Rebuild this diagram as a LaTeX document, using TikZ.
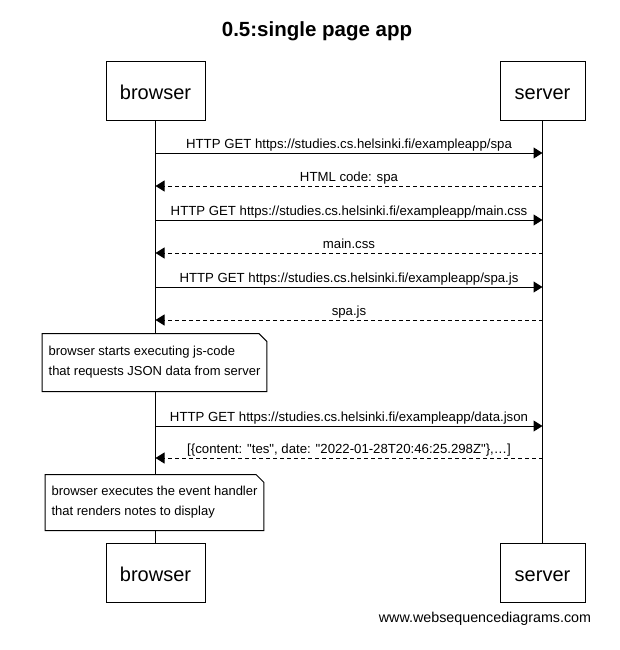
\documentclass[tikz,border=0pt]{standalone}
\usepackage{fontspec}
\setmainfont[Ligatures=TeXOff]{Liberation Sans}
\usetikzlibrary{arrows.meta}

\begin{document}
\begin{tikzpicture}[
		x=1pt, y=-1pt, line width=1pt,
		actor/.style={rectangle, draw, fill=white, minimum width=99pt, minimum height=59pt, inner sep=0pt, text height=17pt, text depth=0pt, font=\fontsize{20}{24}\selectfont},
		msg/.style={-{Triangle[length=9pt,width=11pt]}},
		reply/.style={msg, dash pattern=on 4pt off 3pt},
		lbl/.style={above, inner sep=1.5pt, text depth=2.8pt, font=\fontsize{13.2}{15}\selectfont},
		notebox/.style={rectangle, fill=white, inner xsep=6pt, inner ysep=0pt, align=left, font=\fontsize{13}{20}\selectfont}
	]
		\useasboundingbox (0,0) rectangle (619,650);

		% Title
		\node[font=\bfseries\fontsize{20.5}{24}\selectfont] (title) at (317,31) {0.5:single page app};

		% Participants
		\node[actor] (browser) at (155.5,91.5) {browser};
		\node[actor, minimum width=85pt] (server) at (542.5,91.5) {server};
		\node[actor] (browserB) at (155.5,572.5) {browser};
		\node[actor, minimum width=85pt] (serverB) at (542.5,572.5) {server};

		% Lifelines
		\draw (browser.south) -- (browserB.north);
		\draw (server.south) -- (serverB.north);

		% Message points
		\coordinate (b1) at (155.5,153);  \coordinate (s1) at (542.5,153);
		\coordinate (b2) at (155.5,186);  \coordinate (s2) at (542.5,186);
		\coordinate (b3) at (155.5,220);  \coordinate (s3) at (542.5,220);
		\coordinate (b4) at (155.5,253);  \coordinate (s4) at (542.5,253);
		\coordinate (b5) at (155.5,287);  \coordinate (s5) at (542.5,287);
		\coordinate (b6) at (155.5,320);  \coordinate (s6) at (542.5,320);
		\coordinate (b7) at (155.5,426);  \coordinate (s7) at (542.5,426);
		\coordinate (b8) at (155.5,458);  \coordinate (s8) at (542.5,458);

		% Messages
		\draw[msg] (b1) -- node[lbl] {HTTP GET https://studies.cs.helsinki.fi/exampleapp/spa} (s1);
		\draw[reply] (s2) -- node[lbl] {HTML code: spa} (b2);
		\draw[msg] (b3) -- node[lbl] {HTTP GET https://studies.cs.helsinki.fi/exampleapp/main.css} (s3);
		\draw[reply] (s4) -- node[lbl] {main.css} (b4);
		\draw[msg] (b5) -- node[lbl] {HTTP GET https://studies.cs.helsinki.fi/exampleapp/spa.js} (s5);
		\draw[reply] (s6) -- node[lbl] {spa.js} (b6);

		% Note 1
		\node[notebox, minimum height=57pt] (note1) at (154.5,362.5) {browser starts executing js-code\\that requests JSON data from server};
		\draw (note1.south west) -- (note1.north west) -- ([xshift=-8pt]note1.north east) -- ([yshift=-8pt]note1.north east) -- (note1.south east) -- cycle;

		\draw[msg] (b7) -- node[lbl] {HTTP GET https://studies.cs.helsinki.fi/exampleapp/data.json} (s7);
		\draw[reply] (s8) -- node[lbl] {[\{content: "tes", date: "2022-01-28T20:46:25.298Z"\},…]} (b8);

		% Note 2
		\node[notebox, minimum height=55pt] (note2) at (154.5,502.5) {browser executes the event handler\\that renders notes to display};
		\draw (note2.south west) -- (note2.north west) -- ([xshift=-8pt]note2.north east) -- ([yshift=-8pt]note2.north east) -- (note2.south east) -- cycle;

		% Footer
		\node[font=\fontsize{14.3}{17}\selectfont] (footer) at (485,619) {www.websequencediagrams.com};
	\end{tikzpicture}
\end{document}
